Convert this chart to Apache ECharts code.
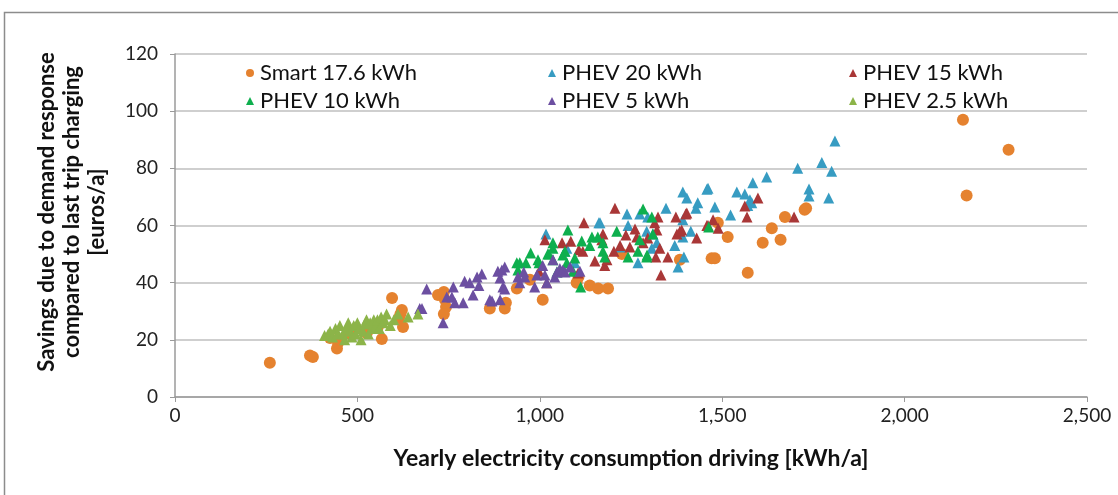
<!DOCTYPE html>
<html>
<head>
<meta charset="utf-8">
<script src="https://cdn.jsdelivr.net/npm/echarts@6/dist/echarts.min.js"></script>
<style>
  html, body { margin: 0; padding: 0; background: #fff; }
  #chart { width: 1118px; height: 495px; }
</style>
</head>
<body>
<div id="chart"></div>
<script>
// [kWh/a, euros/a] per series
var smart = [[260,12],[370,14.5],[378,14],[425,20.6],[444,17],[447,19],[452,20],[480,22],[520,23],[526,22.4],[556,24.5],[567,20.3],[595,34.6],[614,27.6],[618,29],[622,30.4],[625,24.5],[721,35.7],[737,36.7],[740,34],[743,31.5],[737,29],[863,31],[907,33],[904,31],[937,38],[973,41],[1008,34],[1101,40],[1106,42],[1137,39],[1160,38],[1187,38],[1225,50],[1384,48],[1471,48.5],[1480,48.5],[1488,61],[1515,56],[1570,43.5],[1611,54],[1636,59],[1660,55],[1672,63],[1726,65.5],[1730,66],[2160,97],[2170,70.5],[2285,86.5]];
var phev20 = [[1017,57],[1069,51],[1074,52],[1096,47],[1162,61],[1165,61],[1220,52.5],[1239,64],[1242,60],[1269,47],[1274,64],[1293,58],[1296,63],[1307,52],[1310,57],[1321,54],[1346,66],[1370,53],[1379,45.5],[1392,71.7],[1392,62],[1392,56],[1395,49],[1403,69.6],[1414,58],[1428,66],[1433,68],[1458,72.7],[1461,73],[1480,66.5],[1523,63.7],[1540,71.7],[1562,71],[1570,67],[1576,69],[1581,68],[1584,75],[1622,77],[1707,80],[1738,72.8],[1738,70.3],[1773,82],[1792,69.6],[1800,79],[1809,89.6]];
var phev15 = [[998,44],[1014,55],[1019,40],[1061,54],[1085,54.5],[1105,43.4],[1107,51.5],[1118,51],[1121,61],[1151,47.6],[1170,55],[1173,57],[1178,46],[1184,48],[1203,51],[1206,66],[1220,53],[1236,56.7],[1247,52.5],[1261,58.8],[1266,56],[1283,54],[1296,55.6],[1315,61],[1318,49],[1321,58.4],[1324,63],[1329,52],[1332,42.7],[1351,49],[1373,63],[1376,57],[1384,58],[1389,58.4],[1400,64],[1403,64.4],[1430,55.6],[1458,60],[1461,60],[1475,62],[1489,59],[1562,66.8],[1568,63],[1598,69.6],[1697,63]];
var phev10 = [[937,47],[940,44.4],[945,47],[962,47],[975,50.4],[995,48],[998,47],[1022,50],[1025,50],[1036,54],[1036,48],[1036,52],[1047,43.7],[1063,49.7],[1069,51],[1074,47],[1077,58.4],[1091,44],[1096,48.6],[1112,38.5],[1115,54.6],[1137,53],[1143,56],[1159,56],[1173,54],[1173,51],[1178,49],[1211,58],[1242,49],[1269,51],[1274,55],[1283,65.8],[1293,49],[1294,49.7],[1307,63],[1310,57],[1463,59.5]];
var phev5 = [[671,31],[677,31],[690,37.8],[735,26],[745,35],[759,35],[763,38.5],[767,33],[790,33],[794,40.5],[808,40],[817,35.7],[828,42],[833,39],[841,43],[863,34],[869,33.6],[885,44],[891,34],[891,41.6],[896,44.4],[899,38.5],[904,45.5],[904,37.8],[940,42],[945,40],[956,43.7],[959,42],[986,38.5],[992,42.7],[1008,46],[1014,42.7],[1019,40],[1036,48],[1041,42],[1047,43.7],[1055,45],[1063,44.4],[1069,43.7],[1083,45.5],[1110,44]];
var phev25 = [[410,21.5],[420,22],[425,23],[432,21],[440,24],[445,22],[452,25],[460,22],[465,20],[470,24],[475,26],[480,23],[485,21],[490,25],[495,22],[500,26],[505,24],[510,20],[515,23],[520,25.5],[525,27],[530,22],[535,26],[540,24],[545,27],[550,25],[555,27],[560,24],[565,28],[570,26],[575,27],[580,29],[590,25],[600,27],[611,29],[639,28],[666,29]];

var seriesNames = ["Smart 17.6 kWh", "PHEV 20 kWh", "PHEV 15 kWh", "PHEV 10 kWh", "PHEV 5 kWh", "PHEV 2.5 kWh"];
var seriesData = [smart, phev20, phev15, phev10, phev5, phev25];
var colors = ["#E5822F", "#379CC2", "#A93737", "#0EAF4E", "#6C4FA1", "#8CB449"];
var symbols = ["circle", "triangle", "triangle", "triangle", "triangle", "triangle"];

var FONT = "Lato, 'Open Sans', sans-serif";
var myChart = echarts.init(document.getElementById("chart"));

// legend placed as 3 columns x 2 rows inside the plot
var legendPos = [[241, 57], [543, 57], [844, 57], [241, 85], [543, 85], [844, 85]];
var legends = seriesNames.map(function (name, i) {
  return {
    data: [{ name: name, icon: symbols[i] }],
    left: legendPos[i][0],
    top: legendPos[i][1],
    itemWidth: 8,
    itemHeight: 8,
    textStyle: { fontFamily: FONT, fontSize: 22, color: "#111", padding: [0, 0, 0, 1] },
  };
});

var option = {
  animation: false,
  color: colors,
  legend: legends,
  grid: { left: 175, right: 31, top: 54, bottom: 98 },
  graphic: [
    {
      type: "rect",
      shape: { x: 4.5, y: 12.5, width: 1130, height: 500 },
      style: { fill: "none", stroke: "#8c8c8c", lineWidth: 1.5 },
      silent: true,
    },
    {
      type: "text",
      x: 72,
      y: 212,
      rotation: Math.PI / 2,
      style: {
        text: "Savings due to demand response\ncompared to last trip charging\n[euros/a]",
        fontFamily: FONT,
        fontSize: 22,
        fontWeight: "bold",
        lineHeight: 25,
        fill: "#111",
        textAlign: "center",
        textVerticalAlign: "middle",
      },
    },
  ],
  xAxis: {
    type: "value",
    min: 0,
    max: 2500,
    interval: 500,
    name: "Yearly electricity consumption driving [kWh/a]",
    nameLocation: "middle",
    nameGap: 50,
    nameTextStyle: { fontFamily: FONT, fontSize: 23, fontWeight: "bold", color: "#111" },
    axisLine: { lineStyle: { color: "#9a9a9a", width: 1.5 } },
    axisTick: { show: true, length: 5, lineStyle: { color: "#9a9a9a" } },
    axisLabel: {
      fontFamily: FONT,
      fontSize: 19,
      color: "#222",
      margin: 9,
      formatter: function (v) { return v.toLocaleString("en-US"); },
    },
    splitLine: { show: false },
  },
  yAxis: {
    type: "value",
    min: 0,
    max: 120,
    interval: 20,
    axisLine: { show: true, lineStyle: { color: "#9a9a9a", width: 1.5 } },
    axisTick: { show: true, length: 5, lineStyle: { color: "#9a9a9a" } },
    axisLabel: { fontFamily: FONT, fontSize: 19, color: "#222", margin: 17 },
    splitLine: { lineStyle: { color: "#cfcfcf", width: 2 } },
  },
  series: seriesNames.map(function (name, i) {
    return {
      name: name,
      type: "scatter",
      data: seriesData[i],
      symbol: symbols[i],
      symbolSize: i === 0 ? 12 : 11,
      itemStyle: { color: colors[i], opacity: 1 },
    };
  }),
};

myChart.setOption(option);
</script>
</body>
</html>
